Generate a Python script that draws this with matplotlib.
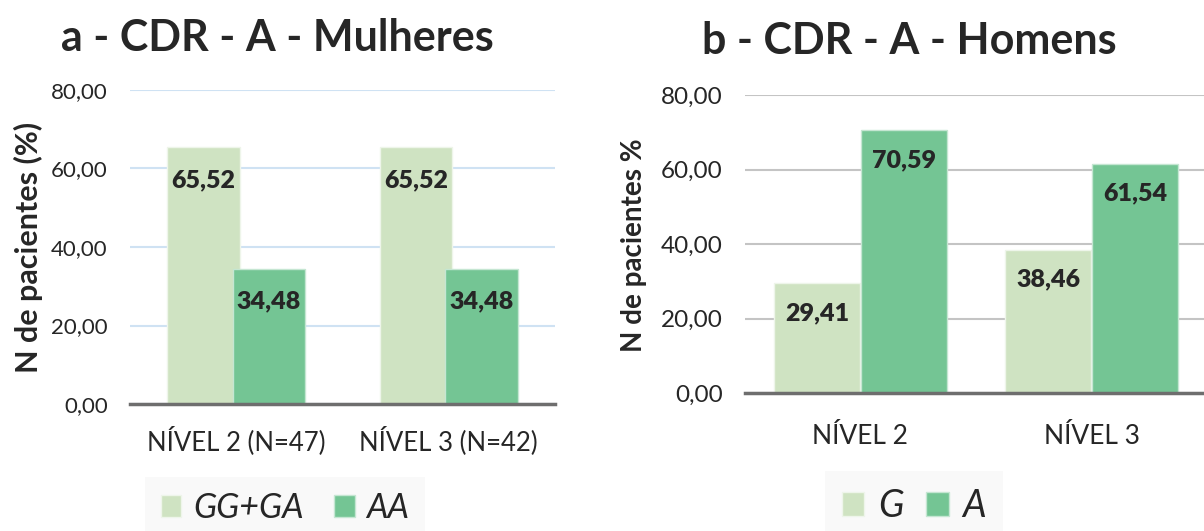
import matplotlib
matplotlib.use("Agg")
import matplotlib.pyplot as plt
import numpy as np
from matplotlib.patches import Patch

plt.rcParams['font.family'] = ['Lato', 'DejaVu Sans']

# Data
cats_a = ["NÍVEL 2 (N=47)", "NÍVEL 3 (N=42)"]
ggga_a = [65.52, 65.52]
aa_a = [34.48, 34.48]

cats_b = ["NÍVEL 2", "NÍVEL 3"]
g_b = [29.41, 38.46]
a_b = [70.59, 61.54]

yticks = [0, 20, 40, 60, 80]

LIGHT = "#cfe3c2"
DARK = "#74c594"
TXT = "#262626"
W, H = 1204, 531

fig = plt.figure(figsize=(W / 100, H / 100), dpi=100)

def fmt(v):
    return f"{v:.2f}".replace(".", ",")

def panel(ax, cats, s1, s2, width, off, gridcolor, ytick_fs, xtick_fs, xpad, lab_dy):
    x = np.arange(len(cats))
    b1 = ax.bar(x - off, s1, width, color=LIGHT, edgecolor="#eef5ea", linewidth=1, zorder=2)
    b2 = ax.bar(x + off, s2, width, color=DARK, edgecolor="#c5e6d2", linewidth=1, zorder=3)
    for bars, vals in ((b1, s1), (b2, s2)):
        for r, v in zip(bars, vals):
            ax.annotate(fmt(v), (r.get_x() + r.get_width() / 2, v),
                        xytext=(0, -lab_dy), textcoords="offset pixels",
                        ha="center", va="center", fontsize=18, fontweight="heavy",
                        color=TXT, zorder=5)
    ax.set_xlim(-0.5, 1.5)
    ax.set_ylim(0, 80)
    ax.set_yticks(yticks)
    ax.set_yticklabels([fmt(v) for v in yticks], fontsize=ytick_fs, color=TXT)
    ax.set_xticks(x)
    ax.set_xticklabels(cats, fontsize=xtick_fs, color=TXT)
    ax.tick_params(axis="y", length=0, pad=16)
    ax.tick_params(axis="x", length=0, pad=xpad)
    for s in ("top", "right", "left"):
        ax.spines[s].set_visible(False)
    ax.spines["bottom"].set_color("#6e6e6e")
    ax.spines["bottom"].set_linewidth(2.5)
    ax.spines["bottom"].set_zorder(6)
    ax.yaxis.grid(True, color=gridcolor, linewidth=1.5, zorder=0)
    ax.set_axisbelow(True)

def legend(labels, center, fs, hl, tp, cs):
    handles = [Patch(facecolor=LIGHT, edgecolor="#eef5ea"), Patch(facecolor=DARK, edgecolor="#c5e6d2")]
    leg = fig.legend(handles, labels, loc="center", bbox_to_anchor=(center[0] / W, 1 - center[1] / H),
                     ncol=2, frameon=True, prop={'style': 'italic', 'size': fs},
                     handlelength=hl, handleheight=hl, columnspacing=cs,
                     handletextpad=tp, borderpad=0.45, fancybox=False)
    leg.get_frame().set_facecolor("#f8f8f8")
    leg.get_frame().set_edgecolor("none")
    for t in leg.get_texts():
        t.set_color(TXT)

ax1 = fig.add_axes([130 / W, 1 - 404 / H, 425 / W, (404 - 90) / H])
panel(ax1, cats_a, ggga_a, aa_a, 0.34, 0.154, "#cfe2f3", 16, 18.5, 16, 33)

ax2 = fig.add_axes([745 / W, 1 - 393 / H, 462 / W, (393 - 95) / H])
panel(ax2, cats_b, g_b, a_b, 0.372, 0.188, "#c4c4c4", 17.5, 19, 22, 30)

# Titles
fig.text(277 / W, 1 - 51 / H, "a - CDR - A - Mulheres", ha="center", va="baseline",
         fontsize=31, fontweight="bold", color=TXT)
fig.text(909 / W, 1 - 54 / H, "b - CDR - A - Homens", ha="center", va="baseline",
         fontsize=31, fontweight="bold", color=TXT)

# Y labels
fig.text(28 / W, 1 - 247 / H, "N de pacientes (%)", rotation=90, ha="center", va="center",
         fontsize=22, fontweight="bold", color=TXT)
fig.text(634 / W, 1 - 245 / H, "N de pacientes %", rotation=90, ha="center", va="center",
         fontsize=20, fontweight="bold", color=TXT)

legend(["GG+GA", "AA"], (285, 508), 24.5, 0.6, 0.35, 0.9)
legend(["G", "A"], (914, 506), 27, 0.6, 0.37, 0.6)

fig.savefig("out.png", dpi=100)
